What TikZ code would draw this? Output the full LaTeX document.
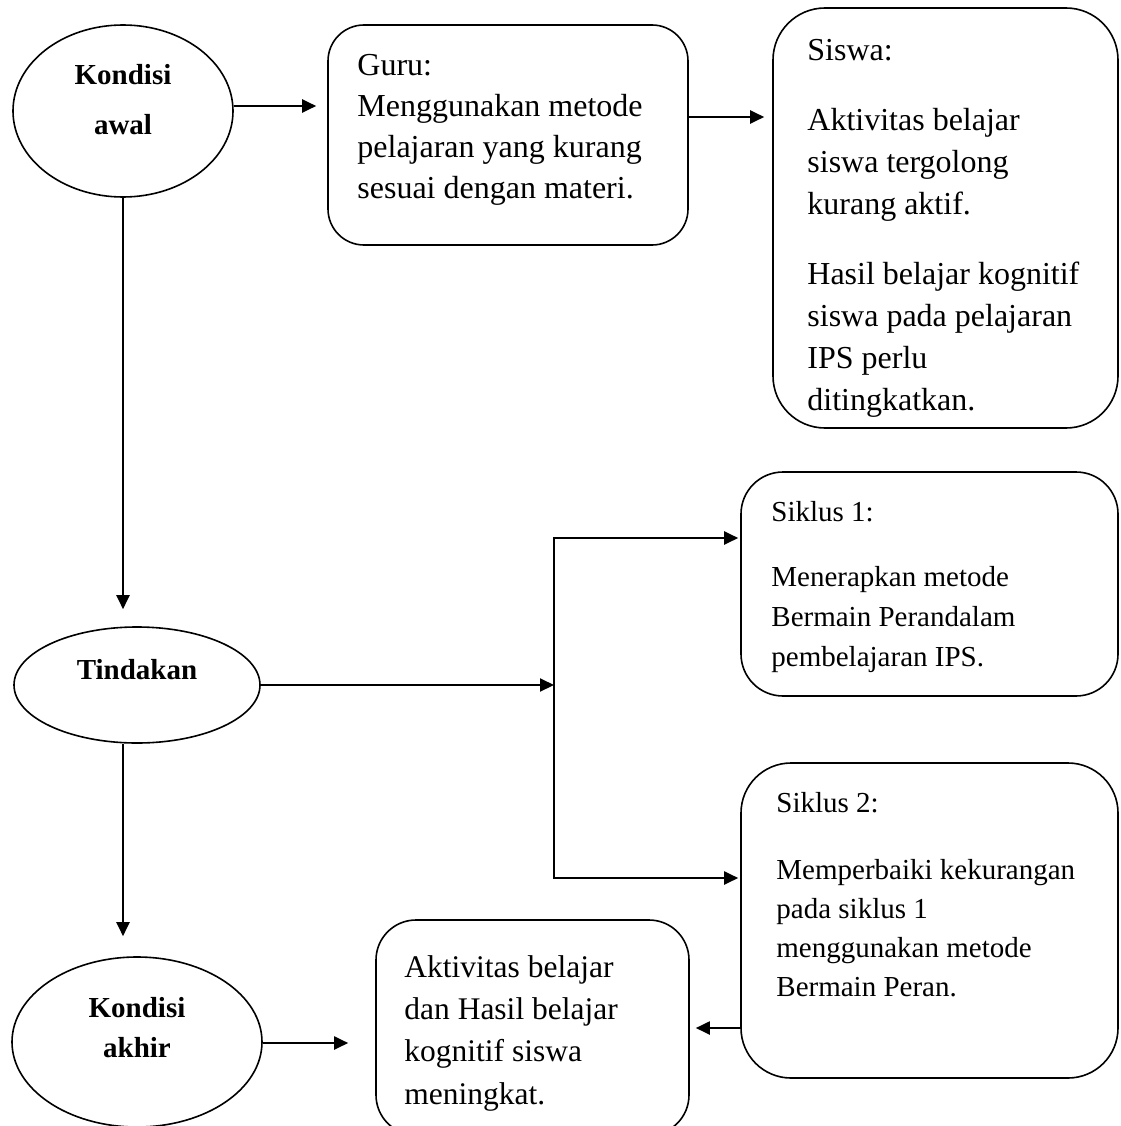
\documentclass[tikz,border=0pt]{standalone}
\usepackage{fontspec}
\setmainfont{Liberation Serif}
\usetikzlibrary{arrows.meta,shapes.geometric}

\begin{document}
\begin{tikzpicture}[x=1pt,y=-1pt,
  oval/.style={ellipse, draw, line width=1.6pt, inner sep=0pt},
  ovaltxt/.style={anchor=north, inner sep=0pt, align=center,
                  font=\fontsize{29}{50}\selectfont\bfseries},
  box/.style={rectangle, draw, line width=1.6pt, rounded corners=#1},
  box/.default=38pt,
  txt/.style={anchor=north west, inner sep=0pt, align=left},
  arr/.style={-{Triangle[length=14pt,width=13pt]}, line width=2pt},
  arrs/.style={{Triangle[length=14pt,width=13pt]}-{Triangle[length=14pt,width=13pt]}, line width=2pt},
]
  \useasboundingbox (0,0) rectangle (1120,1126);
  % left column
  \node[oval, minimum width=220pt, minimum height=172pt] (kawal) at (123,111) {};
  \node[oval, minimum width=246pt, minimum height=116pt] (tind) at (137,685) {};
  \node[oval, minimum width=250pt, minimum height=170pt] (kakhir) at (137,1042) {};
  \node[ovaltxt] (kawal-t) at ([yshift=-40pt]kawal.north) {Kondisi\\awal};
  \node[ovaltxt] (tind-t) at ([yshift=-33pt]tind.north) {Tindakan};
  \node[ovaltxt, font=\fontsize{29}{40}\selectfont\bfseries] (kakhir-t) at ([yshift=-41pt]kakhir.north) {Kondisi\\akhir};
  % boxes
  \node[box=36pt, minimum width=360pt, minimum height=220pt] (guru) at (508,135) {};
  \node[box=52pt, minimum width=345pt, minimum height=420pt] (siswa) at (945.5,218) {};
  \node[box=42pt, minimum width=377pt, minimum height=224pt] (sik1) at (929.5,584) {};
  \node[box=50pt, minimum width=377pt, minimum height=315pt] (sik2) at (929.5,920.5) {};
  \node[box=40pt, minimum width=313pt, minimum height=215pt] (hasil) at (532.5,1027.5) {};
  % box texts
  \node[txt, font=\fontsize{32}{41}\selectfont] (guru-t) at ([xshift=30pt,yshift=-30pt]guru.north west)
    {Guru:\\Menggunakan metode\\pelajaran yang kurang\\sesuai dengan materi.};
  \node[txt, font=\fontsize{32}{42}\selectfont] (siswa-t) at ([xshift=35pt,yshift=-32pt]siswa.north west)
    {Siswa:\\[28pt]Aktivitas belajar\\siswa tergolong\\kurang aktif.\\[28pt]Hasil belajar kognitif\\siswa pada pelajaran\\IPS perlu\\ditingkatkan.};
  \node[txt, font=\fontsize{29}{40}\selectfont] (sik1-t) at ([xshift=31pt,yshift=-30pt]sik1.north west)
    {Siklus 1:\\[25pt]Menerapkan metode\\Bermain Perandalam\\pembelajaran IPS.};
  \node[txt, font=\fontsize{29}{39}\selectfont] (sik2-t) at ([xshift=36pt,yshift=-30pt]sik2.north west)
    {Siklus 2:\\[28pt]Memperbaiki kekurangan\\pada siklus 1\\menggunakan metode\\Bermain Peran.};
  \node[txt, font=\fontsize{31.5}{42.3}\selectfont] (hasil-t) at ([xshift=29pt,yshift=-36pt]hasil.north west)
    {Aktivitas belajar\\dan Hasil belajar\\kognitif siswa\\meningkat.};
  % connectors
  \coordinate (split) at (554,682);
  \coordinate (up) at (554,538);
  \coordinate (dn) at (554,878);
  \draw[arr, shorten >=11pt] ([yshift=5pt]kawal.east) -- ([yshift=5pt]kawal.east -| guru.west);
  \draw[arr, shorten >=8pt] ([yshift=18pt]guru.east) -- ([yshift=18pt]guru.east -| siswa.west);
  \draw[arr, shorten >=17pt] (kawal.south) -- (kawal.south |- tind.north);
  \draw[arr] (tind.east) -- (tind.east -| split);
  \draw[arrs, shorten <=2pt, shorten >=2pt] (up -| sik1.west) -- (up) -- (dn) -- (dn -| sik2.west);
  \draw[arr, shorten >=20pt] (kawal.south |- tind.south) -- (kawal.south |- kakhir.north);
  \draw[arr, shorten >=27pt] ([yshift=-1pt]kakhir.east) -- ([yshift=-1pt]kakhir.east -| hasil.west);
  \draw[arr, shorten >=6pt] ([yshift=-107.5pt]sik2.west) -- ([yshift=-107.5pt]sik2.west -| hasil.east);
\end{tikzpicture}
\end{document}
